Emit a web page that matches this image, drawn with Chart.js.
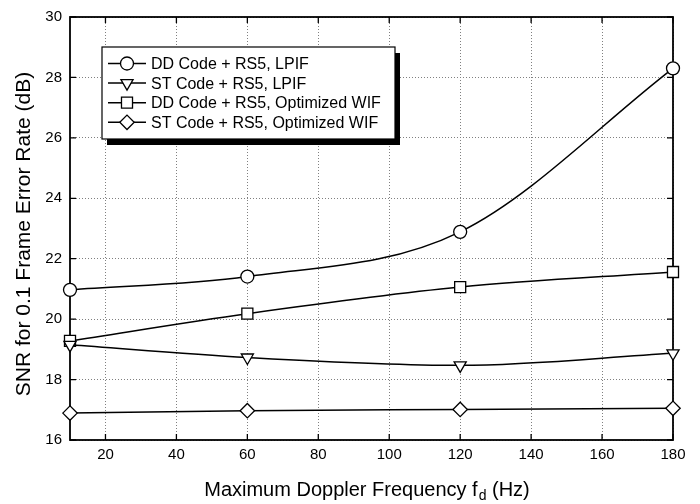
<!DOCTYPE html>
<html><head><meta charset="utf-8">
<script src="https://cdn.jsdelivr.net/npm/chart.js@4/dist/chart.umd.min.js"></script>
<style>html,body{margin:0;padding:0;background:#fff}#wrap{width:700px;height:504px}</style>
</head><body><div id="wrap"><canvas id="c" width="700" height="504"></canvas></div>
<script>
const dopplerHz = [10, 60, 120, 180];
const xTicks = [20, 40, 60, 80, 100, 120, 140, 160, 180];
const yTicks = [16, 18, 20, 22, 24, 26, 28, 30];
const ddLpif = [20.97, 21.41, 22.89, 28.3];
const stLpif = [19.15, 18.73, 18.47, 18.87];
const ddWif = [19.28, 20.18, 21.06, 21.56];
const stWif = [16.89, 16.97, 17.01, 17.05];
const seriesNames = ['DD Code + RS5, LPIF', 'ST Code + RS5, LPIF', 'DD Code + RS5, Optimized WIF', 'ST Code + RS5, Optimized WIF'];
const xTitle = ['Maximum Doppler Frequency f', 'd', ' (Hz)'];
const yTitle = 'SNR for 0.1 Frame Error Rate (dB)';

const FONT = '"Liberation Sans", Arial, Helvetica, sans-serif';
const styles = [
  {pointStyle: 'circle', radius: 6.5, rot: 0},
  {pointStyle: 'triangle', radius: 7, rot: 180},
  {pointStyle: 'rect', radius: 7.8, rot: 0},
  {pointStyle: 'rectRot', radius: 7.2, rot: 0}
];
const allSeries = [ddLpif, stLpif, ddWif, stWif];
const datasets = allSeries.map((s, i) => ({
  label: seriesNames[i],
  data: dopplerHz.map((x, j) => ({x: x, y: s[j]})),
  borderColor: '#000', borderWidth: 1.5,
  backgroundColor: '#fff',
  pointBackgroundColor: '#fff', pointBorderColor: '#000', pointBorderWidth: 1.3,
  pointStyle: styles[i].pointStyle, pointRadius: styles[i].radius, pointRotation: styles[i].rot,
  cubicInterpolationMode: 'monotone', fill: false, clip: false
}));

function drawMarker(ctx, style, x, y, r, rot) {
  ctx.save();
  ctx.fillStyle = '#fff'; ctx.strokeStyle = '#000'; ctx.lineWidth = 1.3;
  if (Chart.helpers && Chart.helpers.drawPoint) {
    Chart.helpers.drawPoint(ctx, {pointStyle: style, rotation: rot, radius: r, borderWidth: 1.3}, x, y);
  }
  ctx.restore();
}

const decor = {
  id: 'decor',
  beforeDatasetsDraw(chart) {
    const {ctx, chartArea: a, scales: {x, y}} = chart;
    ctx.save();
    ctx.strokeStyle = '#000'; ctx.lineWidth = 1.8;
    ctx.strokeRect(a.left, a.top, a.right - a.left, a.bottom - a.top);
    ctx.lineWidth = 1.3;
    ctx.beginPath();
    xTicks.forEach(v => {
      const px = x.getPixelForValue(v);
      ctx.moveTo(px, a.bottom); ctx.lineTo(px, a.bottom - 6);
      ctx.moveTo(px, a.top); ctx.lineTo(px, a.top + 6);
    });
    yTicks.forEach(v => {
      const py = y.getPixelForValue(v);
      ctx.moveTo(a.left, py); ctx.lineTo(a.left + 6, py);
      ctx.moveTo(a.right, py); ctx.lineTo(a.right - 6, py);
    });
    ctx.stroke();
    ctx.restore();
  },
  afterDraw(chart) {
    const {ctx} = chart;
    ctx.save();
    // legend
    const lx = 102, ly = 47, lw = 293, lh = 92;
    ctx.fillStyle = '#000';
    ctx.fillRect(lx + 5, ly + 6, lw, lh);
    ctx.fillStyle = '#fff';
    ctx.fillRect(lx, ly, lw, lh);
    ctx.strokeStyle = '#000'; ctx.lineWidth = 1.2;
    ctx.strokeRect(lx, ly, lw, lh);
    ctx.font = '16px ' + FONT;
    ctx.textBaseline = 'middle'; ctx.textAlign = 'left';
    chart.data.datasets.forEach((ds, i) => {
      const cy = 63.5 + i * 19.6;
      ctx.strokeStyle = '#000'; ctx.lineWidth = 1.5;
      ctx.beginPath(); ctx.moveTo(108, cy); ctx.lineTo(146, cy); ctx.stroke();
      drawMarker(ctx, ds.pointStyle, 127, cy, ds.pointRadius, ds.pointRotation);
      ctx.fillStyle = '#000';
      ctx.fillText(ds.label, 151, cy + 1);
    });
    // x title with subscript
    ctx.fillStyle = '#000';
    ctx.textBaseline = 'alphabetic'; ctx.textAlign = 'left';
    const big = '20px ' + FONT, small = '14px ' + FONT;
    ctx.font = big; const w1 = ctx.measureText(xTitle[0]).width; const w3 = ctx.measureText(xTitle[2]).width;
    ctx.font = small; const w2 = ctx.measureText(xTitle[1]).width;
    const total = w1 + w2 + 1 + w3;
    let sx = 367 - total / 2; const by = 496;
    ctx.font = big; ctx.fillText(xTitle[0], sx, by); sx += w1;
    ctx.font = small; ctx.fillText(xTitle[1], sx + 1, by + 4); sx += w2 + 1;
    ctx.font = big; ctx.fillText(xTitle[2], sx, by);
    // y title
    ctx.translate(24, 234); ctx.rotate(-Math.PI / 2);
    ctx.font = '21px ' + FONT; ctx.textAlign = 'center'; ctx.textBaseline = 'middle';
    ctx.fillText(yTitle, 0, 0);
    ctx.restore();
  }
};

new Chart(document.getElementById('c'), {
  type: 'line',
  data: {datasets: datasets},
  plugins: [decor],
  options: {
    responsive: false, animation: false, devicePixelRatio: 1,
    layout: {padding: {left: 0, top: 15, right: 27, bottom: 0}},
    plugins: {legend: {display: false}, tooltip: {enabled: false}},
    scales: {
      x: {
        type: 'linear', min: 10, max: 180,
        afterBuildTicks: s => { s.ticks = xTicks.map(v => ({value: v})); },
        afterFit: s => { s.height = 64; },
        border: {display: false, dash: [1, 2]},
        grid: {color: '#808080', lineWidth: 1, drawTicks: false},
        ticks: {color: '#000', font: {family: FONT, size: 15}, padding: 6, maxRotation: 0}
      },
      y: {
        type: 'linear', min: 16, max: 30,
        afterBuildTicks: s => { s.ticks = yTicks.map(v => ({value: v})); },
        afterFit: s => { s.width = 70; },
        border: {display: false, dash: [1, 2]},
        grid: {color: '#808080', lineWidth: 1, drawTicks: false},
        ticks: {color: '#000', font: {family: FONT, size: 15}, padding: 8}
      }
    }
  }
});
</script></body></html>
